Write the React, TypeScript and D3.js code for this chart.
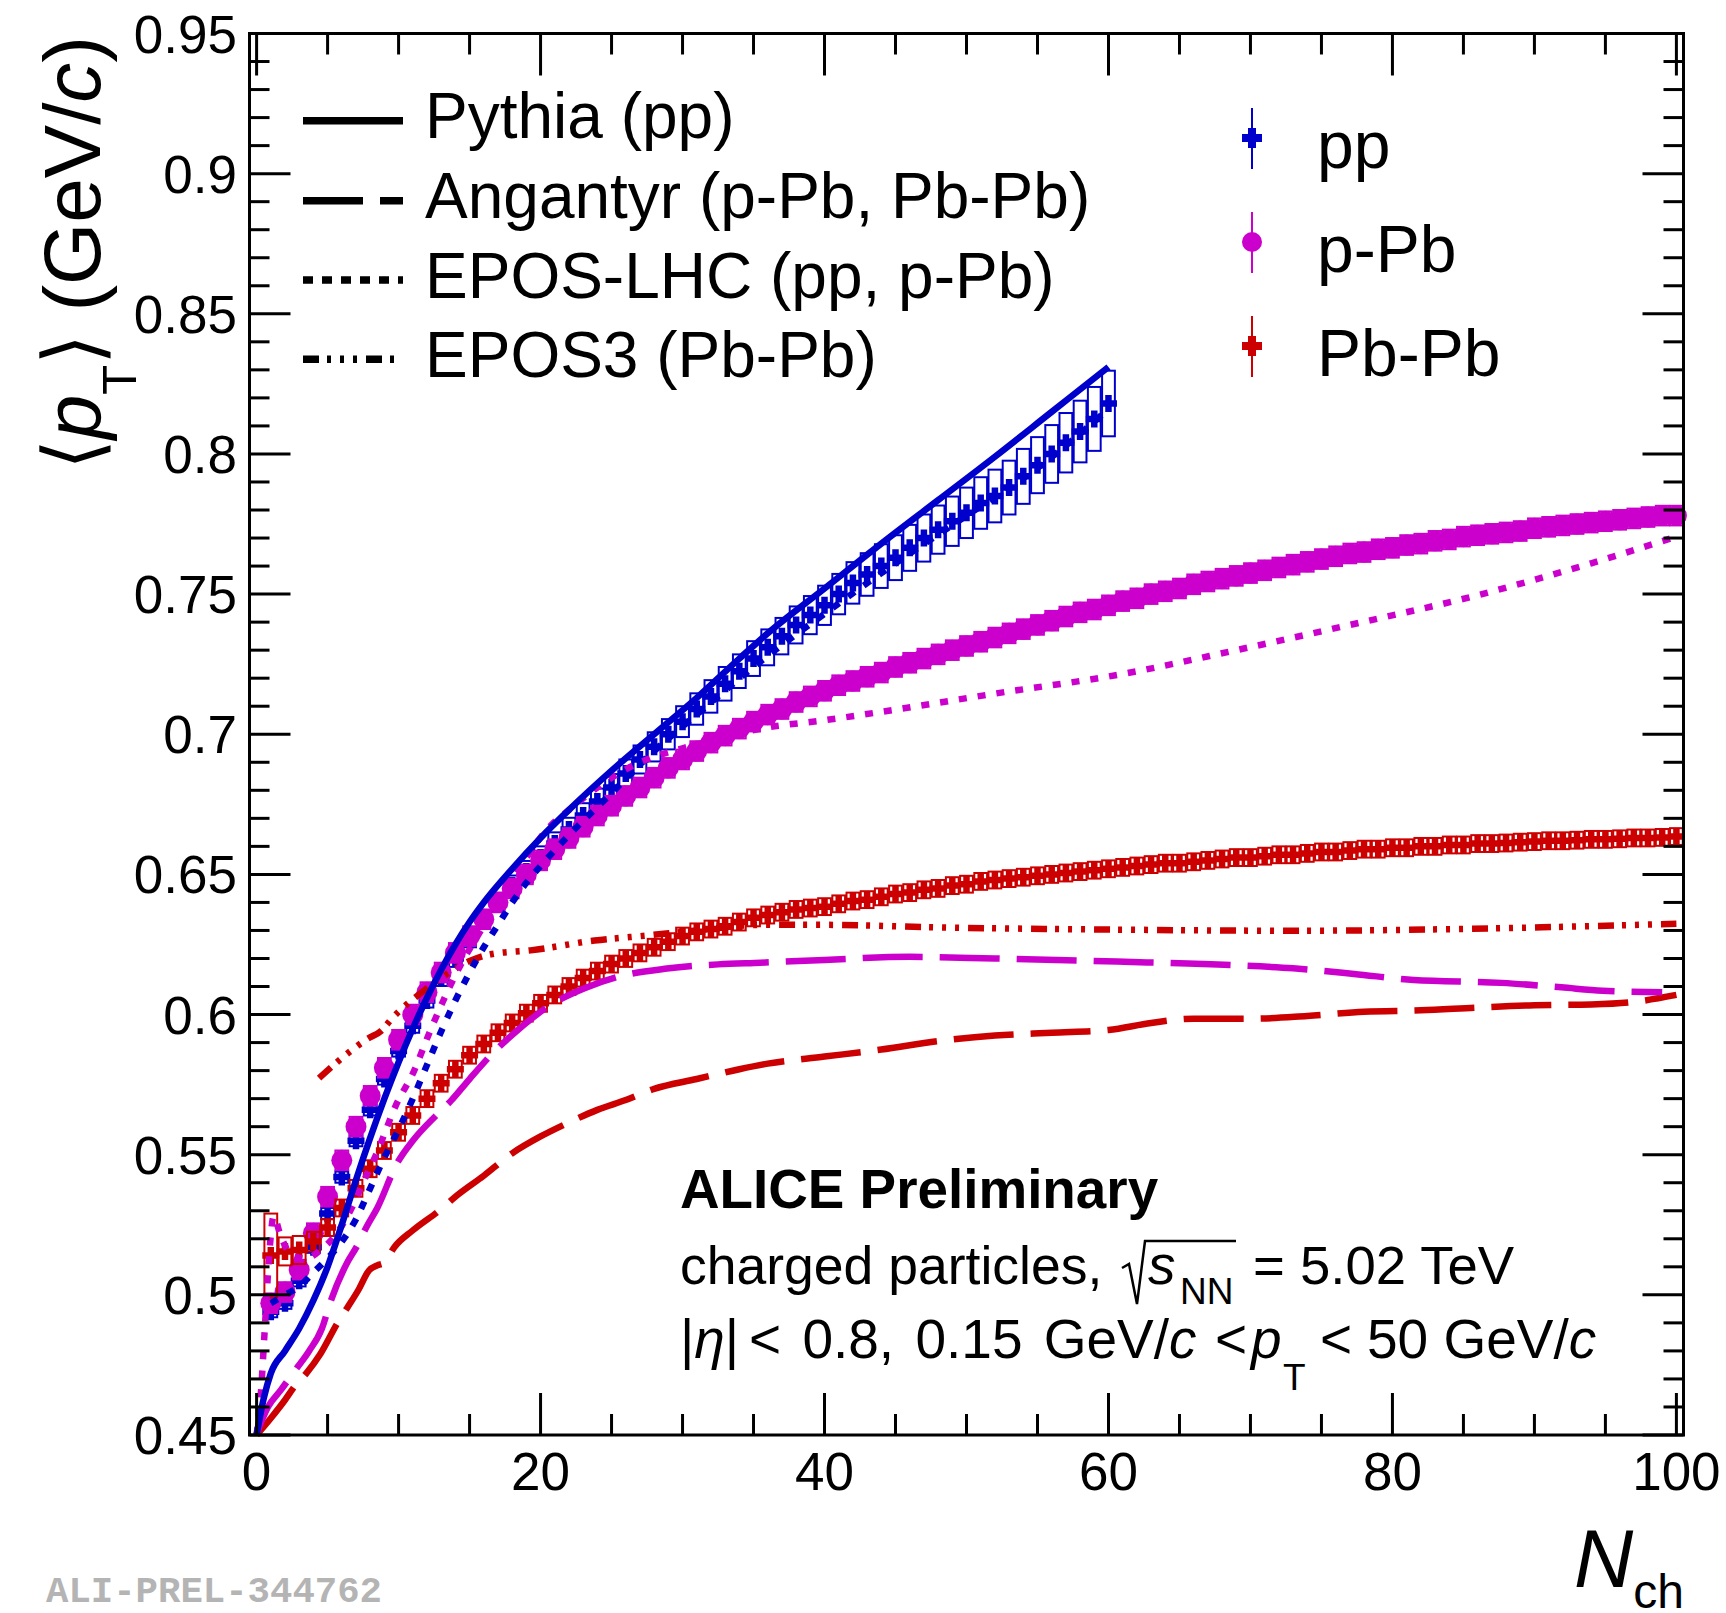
import React from "react";
import * as d3 from "d3";

// <pT> vs Nch, one value per integer Nch starting at Nch = 1
const ppMeanPt = [
  0.494, 0.497, 0.505, 0.517, 0.529, 0.542, 0.555, 0.566, 0.577, 0.587,
  0.596, 0.605, 0.613, 0.62, 0.627, 0.634, 0.64, 0.646, 0.651, 0.656,
  0.661, 0.666, 0.671, 0.676, 0.681, 0.686, 0.691, 0.6955, 0.7, 0.7045,
  0.709, 0.7135, 0.718, 0.7225, 0.727, 0.731, 0.735, 0.739, 0.7425, 0.746,
  0.75, 0.754, 0.757, 0.76, 0.763, 0.7665, 0.77, 0.773, 0.776, 0.779,
  0.7825, 0.785, 0.788, 0.792, 0.796, 0.8, 0.804, 0.808, 0.8125, 0.818,
];
const ppSys = [
  0.002, 0.002, 0.002, 0.002, 0.002, 0.002, 0.002, 0.002, 0.002, 0.002,
  0.0025, 0.0025, 0.0028, 0.003, 0.003, 0.0032, 0.0034, 0.0036, 0.0038, 0.004,
  0.004, 0.0042, 0.0044, 0.0046, 0.0048, 0.005, 0.005, 0.0052, 0.0054, 0.0055,
  0.0056, 0.0058, 0.006, 0.006, 0.0062, 0.0064, 0.0065, 0.0066, 0.0068, 0.007,
  0.0072, 0.0074, 0.0076, 0.0078, 0.008, 0.0082, 0.0084, 0.0086, 0.0088, 0.009,
  0.0092, 0.0094, 0.0096, 0.0098, 0.01, 0.0103, 0.0106, 0.011, 0.0114, 0.0117,
];
const pPbMeanPt = [
  0.497, 0.501, 0.509, 0.522, 0.535, 0.548, 0.56, 0.571, 0.581, 0.591,
  0.6, 0.608, 0.615, 0.622, 0.628, 0.634, 0.64, 0.645, 0.65, 0.655,
  0.659, 0.663, 0.667, 0.671, 0.6745, 0.678, 0.681, 0.6845, 0.688, 0.691,
  0.694, 0.697, 0.6995, 0.702, 0.7045, 0.707, 0.709, 0.7115, 0.7135, 0.7155,
  0.7175, 0.719, 0.7205, 0.722, 0.724, 0.7255, 0.727, 0.7285, 0.73, 0.7315,
  0.733, 0.7345, 0.736, 0.7375, 0.739, 0.7405, 0.742, 0.7435, 0.7445, 0.746,
  0.7475, 0.7485, 0.75, 0.751, 0.752, 0.7535, 0.7545, 0.7555, 0.7565, 0.7575,
  0.7585, 0.7595, 0.7605, 0.7615, 0.7625, 0.7635, 0.7645, 0.765, 0.766, 0.7665,
  0.7675, 0.768, 0.769, 0.7695, 0.7705, 0.771, 0.7715, 0.772, 0.7725, 0.7735,
  0.774, 0.7745, 0.775, 0.7755, 0.776, 0.7765, 0.777, 0.7775, 0.778, 0.778,
];
const pPbSys = 0.0035;
const pbPbMeanPt = [
  0.514, 0.5155, 0.516, 0.519, 0.524, 0.531, 0.538, 0.545, 0.5515, 0.558,
  0.564, 0.57, 0.5755, 0.5805, 0.5855, 0.5895, 0.5935, 0.597, 0.6005, 0.604,
  0.607, 0.61, 0.613, 0.6155, 0.618, 0.62, 0.622, 0.624, 0.626, 0.628,
  0.6295, 0.6305, 0.6315, 0.633, 0.6345, 0.6355, 0.6365, 0.6375, 0.638, 0.6385,
  0.6395, 0.6405, 0.641, 0.642, 0.643, 0.6435, 0.6445, 0.645, 0.646, 0.6465,
  0.6475, 0.648, 0.6485, 0.649, 0.6495, 0.65, 0.6505, 0.651, 0.6515, 0.652,
  0.6525, 0.653, 0.6535, 0.654, 0.654, 0.6545, 0.655, 0.6555, 0.656, 0.656,
  0.6565, 0.657, 0.657, 0.6575, 0.658, 0.658, 0.6585, 0.659, 0.659, 0.6595,
  0.6595, 0.66, 0.66, 0.6605, 0.6605, 0.661, 0.661, 0.6612, 0.6615, 0.6617,
  0.662, 0.662, 0.6622, 0.6625, 0.6625, 0.6627, 0.663, 0.663, 0.6632, 0.6635,
];
// first few Pb-Pb bins have large systematics, the rest look uniform
const pbPbSysLow = [0.015, 0.005, 0.005, 0.0035];
const pbPbSysRest = 0.003;

// model curves, [Nch, <pT>]
const pythiaPP: [number, number][] = [
  [0, 0.45], [0.5, 0.463], [1, 0.472], [2, 0.48], [3, 0.488], [4, 0.498],
  [5, 0.51], [6, 0.525], [7, 0.541], [8, 0.556], [9, 0.57], [10, 0.583],
  [11, 0.595], [12, 0.606], [13, 0.616], [14, 0.625], [15, 0.633], [16, 0.64],
  [18, 0.652], [20, 0.663], [22, 0.673], [25, 0.687], [28, 0.7], [31, 0.713],
  [34, 0.727], [36, 0.736], [40, 0.752], [44, 0.768], [48, 0.7835], [52, 0.799],
  [56, 0.815], [60, 0.831],
];
const angantyrPPb: [number, number][] = [
  [0, 0.4505], [0.8, 0.46], [1.7, 0.466], [2.7, 0.473], [3.7, 0.48], [4.6, 0.488],
  [5.2, 0.4975], [6.35, 0.5112], [7.05, 0.5172], [7.75, 0.5243], [8.5, 0.531],
  [9.9, 0.547], [11, 0.555], [12.7, 0.5643], [13.7, 0.5693], [15, 0.577],
  [16.5, 0.5855], [18.4, 0.5945], [20.7, 0.6034], [23.1, 0.6094], [25.4, 0.6134],
  [28.9, 0.6164], [32.5, 0.6179], [35.5, 0.6185], [40, 0.6195], [46, 0.6206],
  [52, 0.62], [60.6, 0.6189], [68.9, 0.6176], [73, 0.6165], [77.3, 0.6145],
  [81.5, 0.6123], [87.7, 0.6113], [91.9, 0.6097], [94.8, 0.6085], [99, 0.608],
];
const angantyrPbPb: [number, number][] = [
  [0, 0.45], [1, 0.456], [2, 0.4625], [2.7, 0.4675], [3.5, 0.472], [4.5, 0.479],
  [5.7, 0.49], [6.4, 0.4955], [7.2, 0.502], [7.9, 0.5086], [8.5, 0.5105],
  [9, 0.5115], [9.7, 0.517], [11, 0.523], [13, 0.5306], [14, 0.535], [16, 0.5425],
  [18, 0.5505], [20, 0.5565], [22, 0.5615], [24, 0.566], [26, 0.5695],
  [28, 0.5735], [31, 0.577], [34, 0.5805], [36, 0.5825], [40, 0.585],
  [44, 0.5875], [48, 0.5905], [52, 0.5925], [56, 0.5935], [60, 0.5945],
  [63, 0.597], [66, 0.5985], [70, 0.5985], [74, 0.5995], [78, 0.601],
  [82, 0.6015], [86, 0.6025], [90, 0.6033], [94, 0.6036], [97, 0.6045], [100, 0.607],
];
const eposLhcPP: [number, number][] = [
  [1, 0.497], [2, 0.5], [3, 0.503], [4, 0.508], [5, 0.513], [6, 0.519], [7, 0.527],
  [8, 0.538], [9, 0.549], [10, 0.559], [11, 0.57], [12, 0.582], [13, 0.594],
  [14, 0.605], [15, 0.615], [16, 0.624], [17, 0.632], [18, 0.64], [19, 0.647],
  [20, 0.653], [22, 0.664], [25, 0.679], [28, 0.694], [31, 0.707], [35, 0.724],
  [40, 0.743], [45, 0.761], [50, 0.778], [55, 0.795], [60, 0.816],
];
const eposLhcPPb: [number, number][] = [
  [0, 0.45], [0.3, 0.465], [0.6, 0.49], [0.9, 0.515], [1.2, 0.528], [1.7, 0.521],
  [2.5, 0.514], [3.5, 0.513], [4.5, 0.516], [5.5, 0.521], [6.5, 0.529],
  [7.5, 0.54], [8.5, 0.551], [9.8, 0.5675], [11.1, 0.58], [12.05, 0.592],
  [13.1, 0.6044], [14.3, 0.617], [15.8, 0.63], [17, 0.64], [18.5, 0.652],
  [20.5, 0.6663], [22, 0.673], [24, 0.681], [26, 0.6875], [28, 0.692],
  [30, 0.695], [33, 0.699], [35.5, 0.702], [40, 0.705], [44, 0.708],
  [52, 0.7145], [61, 0.7215], [69, 0.73], [77, 0.739], [86, 0.7496],
  [94, 0.761], [100, 0.7705],
];
const epos3PbPb: [number, number][] = [
  [4.4, 0.5773], [5.5, 0.5823], [7.8, 0.5913], [8.8, 0.5943], [9.5, 0.5984],
  [11.8, 0.6086], [13.7, 0.6154], [15.1, 0.6193], [16.5, 0.6215], [19.3, 0.6229],
  [23.8, 0.6264], [27.5, 0.6282], [31, 0.63], [35.5, 0.632], [40, 0.632],
  [48, 0.6311], [60.6, 0.6303], [73.1, 0.6299], [85.6, 0.6306], [100, 0.6324],
];

const modelLabels = [
  "Pythia (pp)",
  "Angantyr (p-Pb, Pb-Pb)",
  "EPOS-LHC (pp, p-Pb)",
  "EPOS3 (Pb-Pb)",
];
const dataLabels = ["pp", "p-Pb", "Pb-Pb"];
const xTickLabels = ["0", "20", "40", "60", "80", "100"];

const BLUE = "#0000cc";
const MAGENTA = "#cc00cc";
const RED = "#cc0000";
const SANS = "'Liberation Sans', Arial, Helvetica, sans-serif";

const DASHED = "60 17";
const DOTTED = "8 11";
const DASHDOT = "16 8 4 9 4 9 4 9";

const W = 1726;
const H = 1613;
const frame = { left: 249.5, right: 1683.5, top: 33.5, bottom: 1435 };

const x = d3.scaleLinear().domain([-0.5, 100.5]).range([frame.left, frame.right]);
const y = d3.scaleLinear().domain([0.45, 0.95]).range([frame.bottom, frame.top]);

const line = d3
  .line<[number, number]>()
  .x((d) => x(d[0]))
  .y((d) => y(d[1]))
  .curve(d3.curveMonotoneX);

function crossPath(cx: number, cy: number, s: number, t: number) {
  const a = s / 2;
  const b = t / 2;
  return `M${cx - a},${cy - b}H${cx - b}V${cy - a}H${cx + b}V${cy - b}H${cx + a}V${cy + b}H${cx + b}V${cy + a}H${cx - b}V${cy + b}H${cx - a}Z`;
}

const App: React.FC = () => {
  const binHalf = x(0.45) - x(0);
  const xMajor = x.ticks(5);
  const xMinor = x.ticks(20);
  const yMajor = y.ticks(10);
  const yMinor = y.ticks(50);
  const fmtY = d3.format(".2~f");

  const models = [
    { d: angantyrPbPb, color: RED, dash: DASHED },
    { d: angantyrPPb, color: MAGENTA, dash: DASHED },
    { d: epos3PbPb, color: RED, dash: DASHDOT },
    { d: eposLhcPP, color: BLUE, dash: DOTTED },
    { d: eposLhcPPb, color: MAGENTA, dash: DOTTED },
    { d: pythiaPP, color: BLUE, dash: undefined },
  ];

  const legendDash = [undefined, DASHED, "10 9", DASHDOT];
  const legendRowY = [120.7, 200.7, 280, 359.3];
  const dataRowY = [138, 242, 346];
  const dataColors = [BLUE, MAGENTA, RED];

  const sysBox = (v: number, s: number, i: number, color: string, key: string) => (
    <rect
      key={key}
      x={x(i + 1) - binHalf}
      y={y(v + s)}
      width={2 * binHalf}
      height={y(v - s) - y(v + s)}
      fill="none"
      stroke={color}
      strokeWidth={2}
    />
  );

  return (
    <svg
      width={W}
      height={H}
      style={{ position: "absolute", left: 0, top: 0, background: "#fff" }}
      fontFamily={SANS}
    >
      <rect x={0} y={0} width={W} height={H} fill="#fff" />

      {/* pp data: systematic boxes + crosses */}
      <g>
        {ppMeanPt.map((v, i) => sysBox(v, ppSys[i], i, BLUE, `ppb${i}`))}
        {ppMeanPt.map((v, i) => (
          <path key={`ppm${i}`} d={crossPath(x(i + 1), y(v), 17, 6.5)} fill={BLUE} />
        ))}
      </g>

      {/* p-Pb data: boxes + circles */}
      <g>
        {pPbMeanPt.map((v, i) => sysBox(v, pPbSys, i, MAGENTA, `pPbb${i}`))}
        {pPbMeanPt.map((v, i) => (
          <circle key={`pPbm${i}`} cx={x(i + 1)} cy={y(v)} r={10.5} fill={MAGENTA} />
        ))}
      </g>

      {/* Pb-Pb data: systematic boxes + crosses */}
      <g>
        {pbPbMeanPt.map((v, i) =>
          sysBox(v, pbPbSysLow[i] ?? pbPbSysRest, i, RED, `pbb${i}`)
        )}
        {pbPbMeanPt.map((v, i) => (
          <path key={`pbm${i}`} d={crossPath(x(i + 1), y(v), 17, 6.5)} fill={RED} />
        ))}
      </g>

      {/* model curves */}
      <g fill="none" strokeWidth={6.5} strokeLinecap="butt" strokeLinejoin="round">
        {models.map((m, i) => (
          <path key={`m${i}`} d={line(m.d) || ""} stroke={m.color} strokeDasharray={m.dash} />
        ))}
      </g>

      {/* frame and ticks */}
      <g stroke="#000" strokeWidth={3} fill="none">
        <rect
          x={frame.left}
          y={frame.top}
          width={frame.right - frame.left}
          height={frame.bottom - frame.top}
        />
        {xMinor.map((t) => {
          const len = xMajor.includes(t) ? 42 : 21;
          return (
            <g key={`xt${t}`}>
              <line x1={x(t)} x2={x(t)} y1={frame.bottom} y2={frame.bottom - len} />
              <line x1={x(t)} x2={x(t)} y1={frame.top} y2={frame.top + len} />
            </g>
          );
        })}
        {yMinor.map((t, i) => {
          const major = yMajor.some((m) => Math.abs(m - t) < 1e-9);
          const len = major ? 41 : 20;
          return (
            <g key={`yt${i}`}>
              <line x1={frame.left} x2={frame.left + len} y1={y(t)} y2={y(t)} />
              <line x1={frame.right} x2={frame.right - len} y1={y(t)} y2={y(t)} />
            </g>
          );
        })}
      </g>

      {/* tick labels */}
      <g fontSize={53} fill="#000">
        {yMajor.map((t) => (
          <text key={`yl${t}`} x={237} y={y(t) + 19} textAnchor="end">
            {fmtY(t)}
          </text>
        ))}
        {xMajor.map((t, i) => (
          <text key={`xl${t}`} x={x(t)} y={1490} textAnchor="middle">
            {xTickLabels[i]}
          </text>
        ))}
      </g>

      {/* axis titles */}
      <text transform="translate(100,36) rotate(-90)" textAnchor="end" fontSize={80}>
        <tspan>⟨</tspan>
        <tspan fontStyle="italic">p</tspan>
        <tspan fontSize={49} dy={36}>T</tspan>
        <tspan dy={-36}>⟩ (GeV/</tspan>
        <tspan fontStyle="italic">c</tspan>
        <tspan>)</tspan>
      </text>
      <text x={1684} y={1587} textAnchor="end" fontSize={82}>
        <tspan fontStyle="italic">N</tspan>
        <tspan fontSize={48} dy={21}>ch</tspan>
      </text>

      {/* model legend */}
      <g>
        {modelLabels.map((lab, i) => (
          <g key={`ml${i}`}>
            <line
              x1={303}
              x2={403}
              y1={legendRowY[i]}
              y2={legendRowY[i]}
              stroke="#000"
              strokeWidth={7.5}
              strokeDasharray={legendDash[i]}
            />
            <text x={425} y={legendRowY[i] + 17.5} fontSize={64}>
              {lab}
            </text>
          </g>
        ))}
      </g>

      {/* data legend */}
      <g>
        {dataLabels.map((lab, i) => (
          <g key={`dl${i}`}>
            <line
              x1={1252}
              x2={1252}
              y1={dataRowY[i] - 30}
              y2={dataRowY[i] + 31}
              stroke={dataColors[i]}
              strokeWidth={2}
            />
            {i === 1 ? (
              <circle cx={1252} cy={dataRowY[i]} r={10} fill={MAGENTA} />
            ) : (
              <path d={crossPath(1252, dataRowY[i], 20, 8)} fill={dataColors[i]} />
            )}
            <text x={1317} y={dataRowY[i] + 30} fontSize={66}>
              {lab}
            </text>
          </g>
        ))}
      </g>

      {/* ALICE label */}
      <g fontSize={55} fill="#000">
        <text x={680} y={1208} fontWeight="bold" fontSize={54.8}>
          ALICE Preliminary
        </text>
        <text x={680} y={1284} fontSize={53.5}>charged particles,</text>
        <path
          d="M1122,1268 L1129,1264 L1137,1304 L1145,1241 L1236,1241"
          fill="none"
          stroke="#000"
          strokeWidth={2.5}
        />
        <text x={1148} y={1284} fontStyle="italic">s</text>
        <text x={1180} y={1304} fontSize={37}>NN</text>
        <text x={1253} y={1284} fontSize={54.5}>= 5.02 TeV</text>

        <text x={680} y={1358}>
          |<tspan fontStyle="italic">η</tspan>|
        </text>
        <text x={749} y={1358} wordSpacing={6}>
          {"< 0.8, 0.15 GeV/"}
          <tspan fontStyle="italic">c</tspan>
        </text>
        <text x={1215} y={1358}>{"<"}</text>
        <text x={1251} y={1358} fontStyle="italic">p</text>
        <text x={1283} y={1390} fontSize={37}>T</text>
        <text x={1320} y={1358}>{"<"}</text>
        <text x={1367} y={1358}>
          {"50 GeV/"}
          <tspan fontStyle="italic">c</tspan>
        </text>
      </g>

      {/* watermark */}
      <text
        x={46}
        y={1602}
        fontFamily="'Liberation Mono', 'Courier New', monospace"
        fontWeight="bold"
        fontSize={37}
        fill="#b4b4b4"
        textLength={336}
        lengthAdjust="spacingAndGlyphs"
      >
        ALI-PREL-344762
      </text>
    </svg>
  );
};

export default App;
